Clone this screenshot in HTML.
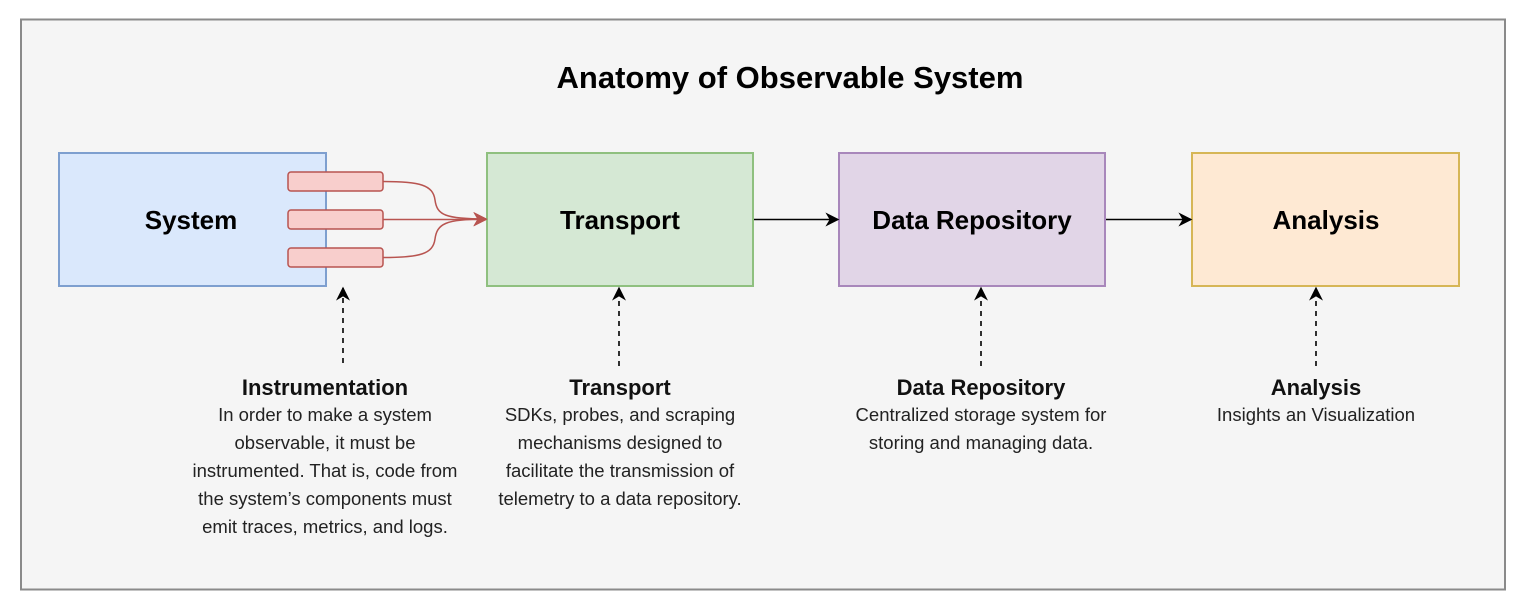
<!DOCTYPE html>
<html><head><meta charset="utf-8"><style>
html,body{margin:0;padding:0;background:#fff;}
svg{display:block;font-family:"Liberation Sans",Arial,sans-serif;}
</style></head><body>
<svg width="1530" height="602" viewBox="0 0 1530 602" xmlns="http://www.w3.org/2000/svg">
<defs>
<marker id="ar" viewBox="0 0 10 10" refX="9" refY="5" markerWidth="14" markerHeight="14" orient="auto" markerUnits="userSpaceOnUse"><path d="M0,0 L10,5 L0,10 L3,5 Z" fill="#b85450"/></marker>
<marker id="ak" viewBox="0 0 10 10" refX="9" refY="5" markerWidth="14" markerHeight="14" orient="auto" markerUnits="userSpaceOnUse"><path d="M0,0 L10,5 L0,10 L3,5 Z" fill="#000"/></marker>
</defs>
<rect x="21" y="19.5" width="1484" height="570" fill="#f5f5f5" stroke="#8a8a8a" stroke-width="2"/>
<text x="790" y="88" text-anchor="middle" font-size="31" font-weight="bold" fill="#000">Anatomy of Observable System</text>

<rect x="59" y="153" width="267" height="133" fill="#dae8fc" stroke="#7e9fcf" stroke-width="2"/>
<text x="191" y="229" text-anchor="middle" font-size="26" font-weight="bold">System</text>
<rect x="487" y="153" width="266" height="133" fill="#d5e8d4" stroke="#8fc07f" stroke-width="2"/>
<text x="620" y="229" text-anchor="middle" font-size="26" font-weight="bold">Transport</text>
<rect x="839" y="153" width="266" height="133" fill="#e1d5e7" stroke="#a887bb" stroke-width="2"/>
<text x="972" y="229" text-anchor="middle" font-size="26" font-weight="bold">Data Repository</text>
<rect x="1192" y="153" width="267" height="133" fill="#ffe6cc" fill-opacity="0.85" stroke="#d6b656" stroke-width="2"/>
<text x="1326" y="229" text-anchor="middle" font-size="26" font-weight="bold">Analysis</text>

<g fill="#f8cecc" stroke="#b85450" stroke-width="1.5">
<rect x="288" y="172" width="95" height="19" rx="3"/>
<rect x="288" y="210" width="95" height="19" rx="3"/>
<rect x="288" y="248" width="95" height="19" rx="3"/>
</g>
<g fill="none" stroke="#b85450" stroke-width="1.5">
<path d="M383,181.5 C420,181.5 433,185 435,200 C437,215 445,219 486,219" marker-end="url(#ar)"/>
<path d="M383,219.5 L486,219.5" marker-end="url(#ar)"/>
<path d="M383,257.5 C420,257.5 433,254 435,239 C437,224 445,219 486,219" marker-end="url(#ar)"/>
</g>
<g stroke="#000" stroke-width="1.6" fill="none">
<path d="M754,219.5 L838,219.5" marker-end="url(#ak)"/>
<path d="M1106,219.5 L1191,219.5" marker-end="url(#ak)"/>
<g stroke-dasharray="5,5">
<path d="M343,363 L343,288" marker-end="url(#ak)"/>
<path d="M619,366 L619,288" marker-end="url(#ak)"/>
<path d="M981,366 L981,288" marker-end="url(#ak)"/>
<path d="M1316,366 L1316,288" marker-end="url(#ak)"/>
</g>
</g>

<g text-anchor="middle" font-size="22" font-weight="bold" fill="#111">
<text x="325" y="395">Instrumentation</text>
<text x="620" y="395">Transport</text>
<text x="981" y="395">Data Repository</text>
<text x="1316" y="395">Analysis</text>
</g>
<g text-anchor="middle" font-size="18.5" fill="#222">
<text x="325" y="421">In order to make a system</text>
<text x="325" y="449">observable, it must be</text>
<text x="325" y="477">instrumented. That is, code from</text>
<text x="325" y="505">the system’s components must</text>
<text x="325" y="533">emit traces, metrics, and logs.</text>
<text x="620" y="421">SDKs, probes, and scraping</text>
<text x="620" y="449">mechanisms designed to</text>
<text x="620" y="477">facilitate the transmission of</text>
<text x="620" y="505">telemetry to a data repository.</text>
<text x="981" y="421">Centralized storage system for</text>
<text x="981" y="449">storing and managing data.</text>
<text x="1316" y="421">Insights an Visualization</text>
</g>
</svg>
</body></html>
